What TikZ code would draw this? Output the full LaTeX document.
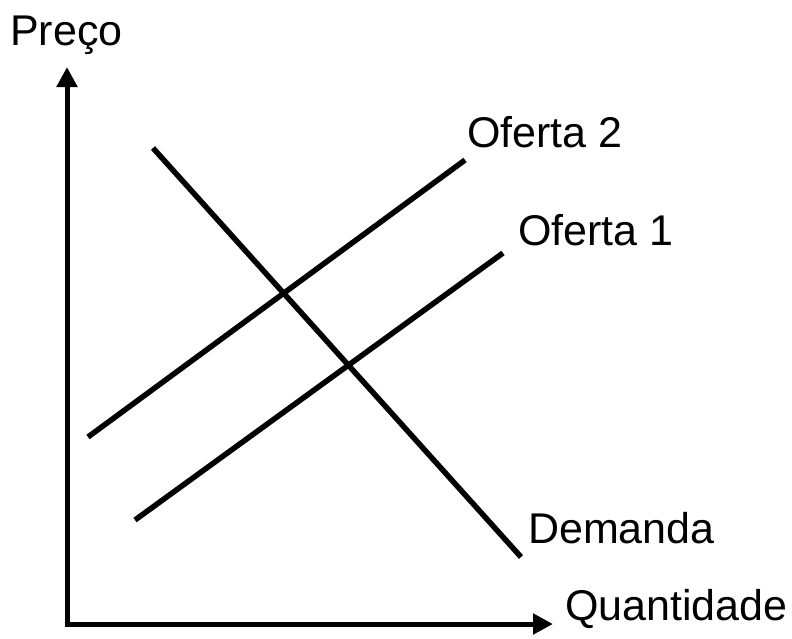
\documentclass[tikz,border=0pt]{standalone}
\usepackage{fontspec}
\setmainfont{Liberation Sans}
\usetikzlibrary{arrows.meta}
\begin{document}
\begin{tikzpicture}[x=1pt,y=-1pt,
  curve/.style={line width=5.5pt},
  axis/.style={line width=5pt,-{Triangle[width=20pt,length=20pt]}},
  lbl/.style={anchor=base west,inner sep=0pt,font=\fontsize{43}{48}\selectfont}]
\useasboundingbox (0,0) rectangle (792,638);
\coordinate (o) at (67,624);
\coordinate (ytip) at (67,67);
\coordinate (xtip) at (553,624);
\draw[axis] (67,626.5) -- (ytip);
\draw[axis] (64.5,624) -- (xtip);
\coordinate (d1) at (153,148);
\coordinate (d2) at (521,557);
\coordinate (s2a) at (88,437);
\coordinate (s2b) at (465,160);
\coordinate (s1a) at (135,520);
\coordinate (s1b) at (503,253);
\draw[curve] (d1) -- (d2);
\draw[curve] (s2a) -- (s2b);
\draw[curve] (s1a) -- (s1b);
\node[lbl] (preco) at (10,45) {Preço};
\node[lbl] (of2) at (467,147) {Oferta 2};
\node[lbl] (of1) at (518,245) {Oferta 1};
\node[lbl] (dem) at (528,543) {Demanda};
\node[lbl] (qt) at (565,620) {Quantidade};
\end{tikzpicture}
\end{document}
